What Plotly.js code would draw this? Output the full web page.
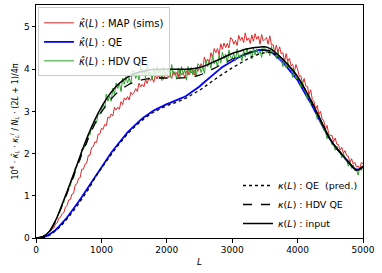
<!DOCTYPE html>
<html>
<head>
<meta charset="utf-8">
<script src="https://cdn.plot.ly/plotly-3.0.1.min.js"></script>
<style>html,body{margin:0;padding:0;background:#fff;}#chart{width:382px;height:273px;}</style>
</head>
<body>
<div id="chart"></div>
<script>
// Multipole grids
const L_25 = [];
for (let i = 0; i <= 200; i++) L_25.push(i * 25);
const L_50 = [];
for (let i = 0; i <= 100; i++) L_50.push(i * 50);
const L_coarse = [0,100,200,300,400,500,600,700,800,900,1000,1100,1200,1300,1400,1500,1600,1700,1800,1900,
  2000,2100,2200,2300,2400,2500,2600,2700,2800,2900,3000,3100,3200,3300,3400,3500,3600,3700,3800,3900,
  4000,4100,4200,4300,4400,4500,4600,4700,4800,4900,5000];

// Reconstructed estimator spectra (step 25 in L)
const mapSims = [
  0,0.005,0.01,0.02,0.035,0.05,0.08,0.09,0.15,0.16,0.22,0.24,0.34,0.36,0.47,0.49,0.58,0.6,0.73,0.77,
  0.9,0.91,1.04,1.06,1.26,1.28,1.41,1.43,1.63,1.63,1.75,1.77,1.96,1.96,2.14,2.16,2.28,2.26,2.46,2.46,
  2.6,2.57,2.69,2.66,2.87,2.84,2.94,2.89,3.1,3.03,3.1,3.05,3.23,3.16,3.32,3.27,3.35,3.27,3.45,3.4,
  3.45,3.54,3.47,3.67,3.58,3.64,3.58,3.75,3.66,3.8,3.73,3.8,3.69,3.85,3.77,3.86,3.78,3.85,3.76,3.92,
  3.89,3.8,3.87,3.78,3.95,3.86,3.92,3.82,3.99,3.86,3.9,3.81,3.96,3.86,4.0,3.91,3.98,3.86,4.04,3.95,
  4.02,4.13,4.03,4.29,4.15,4.24,4.15,4.39,4.27,4.49,4.39,4.49,4.34,4.6,4.47,4.62,4.51,4.61,4.5,4.75,
  4.71,4.59,4.68,4.56,4.8,4.68,4.76,4.63,4.86,4.68,4.74,4.61,4.81,4.66,4.84,4.71,4.78,4.59,4.82,4.67,
  4.7,4.75,4.59,4.79,4.57,4.58,4.41,4.57,4.39,4.53,4.36,4.39,4.18,4.37,4.18,4.26,4.08,4.11,3.93,4.11,
  4.0,3.83,3.84,3.66,3.78,3.6,3.59,3.4,3.51,3.28,3.24,3.05,3.14,2.93,3.0,2.81,2.79,2.56,2.67,2.47,
  2.43,2.43,2.28,2.37,2.22,2.21,2.08,2.15,2.01,2.07,1.95,1.94,1.79,1.88,1.75,1.79,1.68,1.71,1.64,1.79,
  1.76];
const hdvSims = [
  0,0.005,0.01,0.02,0.03,0.05,0.08,0.1,0.15,0.19,0.27,0.31,0.42,0.47,0.6,0.65,0.8,0.84,1.0,1.05,
  1.22,1.23,1.4,1.41,1.67,1.69,1.84,1.84,2.11,2.09,2.22,2.22,2.46,2.44,2.65,2.64,2.77,2.73,2.95,2.93,
  3.02,3.18,3.06,3.41,3.24,3.36,3.24,3.55,3.4,3.67,3.54,3.67,3.47,3.79,3.64,3.82,3.67,3.8,3.65,3.96,
  3.95,3.78,3.91,3.74,4.07,3.88,4.0,3.79,4.11,3.87,3.94,3.75,4.04,3.82,4.07,3.89,3.99,3.73,4.06,3.85,
  3.9,4.0,3.81,4.11,3.87,3.94,3.76,4.03,3.82,4.06,3.89,3.98,3.74,4.06,3.87,4.04,3.86,3.98,3.82,4.13,
  4.07,3.92,4.05,3.9,4.21,4.06,4.19,4.02,4.33,4.12,4.21,4.06,4.34,4.15,4.4,4.25,4.36,4.14,4.45,4.28,
  4.26,4.36,4.2,4.48,4.28,4.34,4.2,4.45,4.28,4.5,4.35,4.44,4.24,4.5,4.34,4.48,4.34,4.44,4.28,4.55,
  4.49,4.38,4.46,4.32,4.54,4.38,4.42,4.25,4.43,4.22,4.23,4.06,4.22,4.03,4.17,4.0,4.02,3.8,3.98,3.78,
  3.77,3.77,3.58,3.71,3.49,3.46,3.28,3.38,3.17,3.24,3.06,3.04,2.81,2.92,2.72,2.74,2.55,2.54,2.35,2.46,
  2.36,2.21,2.22,2.08,2.18,2.04,2.05,1.9,2.02,1.85,1.84,1.7,1.8,1.65,1.73,1.6,1.62,1.49,1.66,1.6,
  1.71];
// QE estimate (step 50 in L)
const qeSims = [0,0.0,0.02,0.04,0.08,0.13,0.19,0.27,0.35,0.44,0.54,0.64,0.75,0.86,0.97,1.09,1.21,1.33,1.45,1.57,
  1.69,1.8,1.91,2.02,2.12,2.22,2.32,2.41,2.5,2.58,2.66,2.73,2.8,2.86,2.92,2.97,3.02,3.06,3.1,3.14,
  3.17,3.2,3.23,3.26,3.3,3.33,3.37,3.42,3.47,3.53,3.59,3.66,3.73,3.8,3.87,3.93,3.99,4.05,4.1,4.15,
  4.2,4.24,4.28,4.32,4.35,4.38,4.41,4.43,4.45,4.46,4.45,4.43,4.4,4.34,4.28,4.2,4.12,4.03,3.94,3.84,
  3.74,3.6,3.48,3.33,3.2,3.04,2.9,2.74,2.6,2.45,2.32,2.22,2.12,2.03,1.94,1.85,1.76,1.67,1.62,1.63,1.7];

// Smooth theory curves (step 100 in L)
const qePred = [0,0.01,0.06,0.17,0.32,0.5,0.7,0.92,1.15,1.42,1.65,1.87,2.08,2.28,2.46,2.62,2.76,2.88,2.98,3.06,
  3.13,3.19,3.25,3.32,3.41,3.5,3.61,3.72,3.83,3.93,4.03,4.12,4.21,4.29,4.35,4.39,4.39,4.32,4.19,4.02,
  3.82,3.56,3.27,2.96,2.64,2.33,2.12,1.94,1.76,1.61,1.69];
const hdvPred = [0,0.03,0.14,0.4,0.77,1.16,1.57,1.98,2.36,2.7,2.98,3.2,3.38,3.52,3.62,3.69,3.74,3.77,3.78,3.79,
  3.79,3.79,3.79,3.8,3.82,3.86,3.92,4.0,4.08,4.16,4.24,4.3,4.36,4.41,4.44,4.45,4.43,4.34,4.19,4.02,
  3.82,3.56,3.27,2.96,2.64,2.33,2.12,1.94,1.76,1.61,1.69];
const inputCl = [0,0.03,0.15,0.42,0.8,1.2,1.62,2.05,2.45,2.8,3.1,3.35,3.55,3.7,3.81,3.89,3.94,3.97,3.99,4.0,
  4.0,4.0,4.0,4.0,4.01,4.04,4.09,4.16,4.23,4.3,4.37,4.42,4.47,4.5,4.52,4.53,4.47,4.34,4.19,4.02,
  3.82,3.56,3.27,2.96,2.64,2.33,2.12,1.94,1.76,1.61,1.69];

const FONT = 'DejaVu Sans, sans-serif';
const traces = [
  {x: L_25, y: mapSims, type: 'scatter', mode: 'lines', line: {color: '#e0282a', width: 1},
   name: '<i>κ̂</i>(<i>L</i>) : MAP (sims)', legend: 'legend'},
  {x: L_50, y: qeSims, type: 'scatter', mode: 'lines', line: {color: '#0000ff', width: 1.8},
   name: '<i>κ̂</i>(<i>L</i>) : QE', legend: 'legend'},
  {x: L_25, y: hdvSims, type: 'scatter', mode: 'lines', line: {color: '#2ca02c', width: 1},
   name: '<i>κ̂</i>(<i>L</i>) : HDV QE', legend: 'legend'},
  {x: L_coarse, y: qePred, type: 'scatter', mode: 'lines', line: {color: '#000', width: 1.3, dash: 'dot', shape: 'spline'},
   name: '<i>κ</i>(<i>L</i>) : QE  (pred.)', legend: 'legend2'},
  {x: L_coarse, y: hdvPred, type: 'scatter', mode: 'lines', line: {color: '#000', width: 1.3, dash: 'dash', shape: 'spline'},
   name: '<i>κ</i>(<i>L</i>) : HDV QE', legend: 'legend2'},
  {x: L_coarse, y: inputCl, type: 'scatter', mode: 'lines', line: {color: '#000', width: 1.5, shape: 'spline'},
   name: '<i>κ</i>(<i>L</i>) : input', legend: 'legend2'}
];

const layout = {
  width: 382, height: 273,
  margin: {l: 36, r: 19, t: 5, b: 35},
  paper_bgcolor: '#fff', plot_bgcolor: '#fff',
  font: {family: FONT, size: 9, color: '#000'},
  showlegend: true,
  xaxis: {
    range: [0, 5000], tickvals: [0, 1000, 2000, 3000, 4000, 5000],
    showgrid: false, zeroline: false, showline: true, mirror: true, linecolor: '#000', linewidth: 1,
    ticks: 'outside', ticklen: 3.5, tickcolor: '#000', tickfont: {size: 9, family: FONT},
    title: {text: '<i>L</i>', font: {size: 9, family: FONT}, standoff: 4}
  },
  yaxis: {
    range: [0, 5.52], tickvals: [0, 1, 2, 3, 4, 5],
    showgrid: false, zeroline: false, showline: true, mirror: true, linecolor: '#000', linewidth: 1,
    ticks: 'outside', ticklen: 3.5, tickcolor: '#000', tickfont: {size: 9, family: FONT},
    title: {text: '10<sup>4</sup> · <i>κ̂</i><sub><i>L</i></sub> · <i>κ</i><sub><i>L</i></sub><sup><i>I</i></sup> / <i>N</i><sub><i>L</i></sub> · (2<i>L</i> + 1)/4π',
            font: {size: 8, family: FONT}, standoff: 4}
  },
  legend: {
    x: 0.006, y: 0.99, xanchor: 'left', yanchor: 'top',
    bgcolor: 'rgba(255,255,255,0.8)', bordercolor: '#cccccc', borderwidth: 1,
    font: {size: 10, family: FONT}, itemwidth: 30, tracegroupgap: 0
  },
  legend2: {
    x: 1, y: 0.0, xanchor: 'right', yanchor: 'bottom',
    bgcolor: 'rgba(255,255,255,0)', borderwidth: 0,
    font: {size: 9.5, family: FONT}, itemwidth: 30, tracegroupgap: 0
  }
};

Plotly.newPlot('chart', traces, layout, {staticPlot: true, displayModeBar: false});
</script>
</body>
</html>
